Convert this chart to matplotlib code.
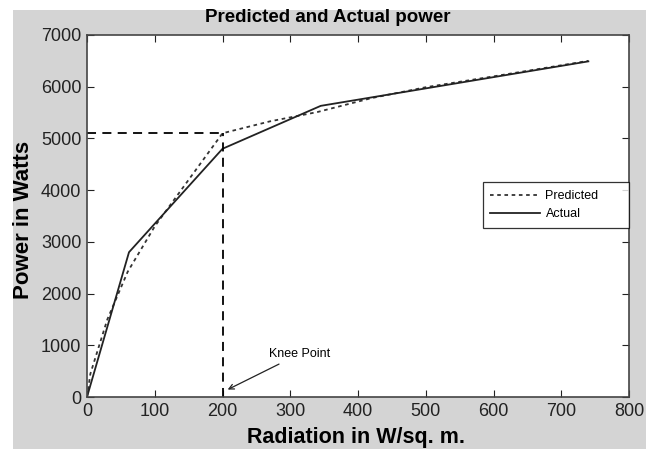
import matplotlib
matplotlib.use("Agg")
import matplotlib.pyplot as plt
from matplotlib.patches import Rectangle

plt.rcParams['font.family'] = ['Liberation Sans', 'DejaVu Sans']

# Data
actual_x = [0, 62, 200, 345, 740]
actual_y = [0, 2800, 4800, 5630, 6490]
pred_x = [0, 5, 30, 60, 100, 150, 200, 270, 340, 420, 500, 600, 740]
pred_y = [0, 450, 1500, 2420, 3300, 4200, 5100, 5330, 5510, 5780, 5990, 6200, 6500]
knee_x = 200
knee_y = 5100
xticks = [0, 100, 200, 300, 400, 500, 600, 700, 800]
yticks = [0, 1000, 2000, 3000, 4000, 5000, 6000, 7000]

W, H = 660, 449
fig = plt.figure(figsize=(W / 100, H / 100), dpi=100, facecolor='white')
bg = Rectangle((13 / W, 0), (646 - 13) / W, (449 - 10) / H,
               transform=fig.transFigure, facecolor='#d4d4d4',
               edgecolor='none', zorder=-10)
fig.add_artist(bg)

ax = fig.add_axes([87 / W, 1 - 397 / H, (629 - 87) / W, (397 - 35) / H])
ax.set_zorder(1)
ax.set_facecolor('white')

ax.plot(pred_x, pred_y, color='#333333', linestyle=(0, (2, 2)), linewidth=1.3, label='Predicted')
ax.plot(actual_x, actual_y, color='#222222', linestyle='-', linewidth=1.3, label='Actual')

ax.plot([0, knee_x], [knee_y, knee_y], color='black', linestyle=(0, (5, 3.5)), linewidth=1.3)
ax.plot([knee_x, knee_x], [0, knee_y], color='black', linestyle=(0, (5, 3.5)), linewidth=1.3)

ax.annotate('Knee Point', xy=(204, 120), xytext=(268, 830), fontsize=9,
            arrowprops=dict(arrowstyle='->', color='#222222', lw=0.9),
            ha='left', va='center')

ax.set_xlim(0, 800)
ax.set_ylim(0, 7000)
ax.set_xticks(xticks)
ax.set_yticks(yticks)
ax.tick_params(direction='in', length=5, top=True, right=True, labelsize=13, pad=4,
               colors='#222222')
for s in ax.spines.values():
    s.set_color('#444444')
    s.set_linewidth(1.2)

fig.text(328 / W, 1 - 17 / H, 'Predicted and Actual power', fontsize=13.5,
         fontweight='bold', ha='center', va='center')
fig.text(356 / W, 1 - 438 / H, 'Radiation in W/sq. m.', fontsize=15.5,
         fontweight='bold', ha='center', va='center')
fig.text(24 / W, 1 - 220 / H, 'Power in Watts', fontsize=16, rotation=90,
         fontweight='bold', ha='center', va='center')

leg = ax.legend(loc='center', bbox_to_anchor=(0.7306, 0.4696, 0.269, 0.1215),
                mode='expand', borderaxespad=0,
                fontsize=9, handlelength=4.0, handletextpad=0.4, frameon=True,
                fancybox=False, borderpad=0.6, labelspacing=0.5)
leg.get_frame().set_edgecolor('black')
leg.get_frame().set_linewidth(0.9)

fig.savefig('out.png', dpi=100, facecolor='white')
